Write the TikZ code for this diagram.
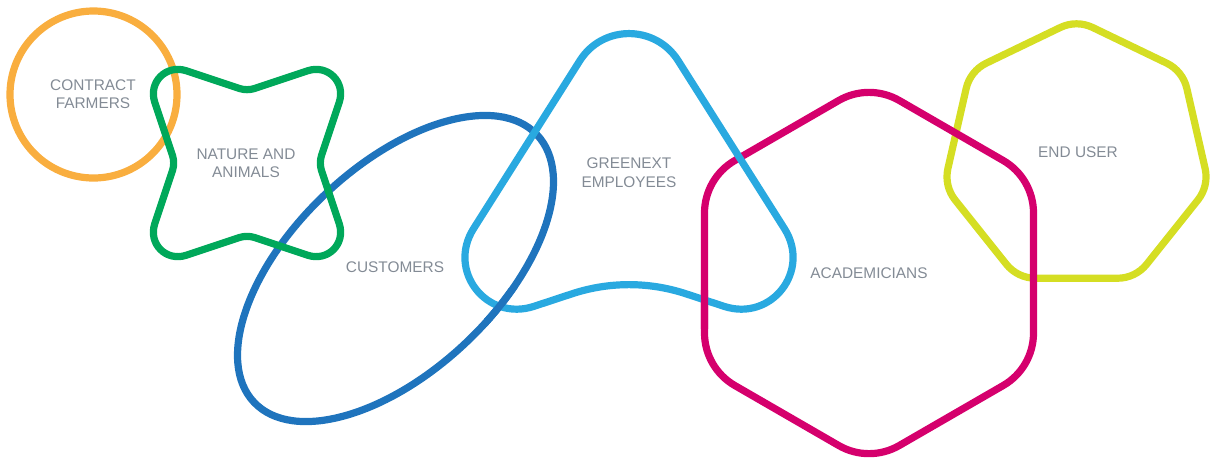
\documentclass[tikz,border=0pt]{standalone}
\usepackage{fontspec}
\setmainfont{Liberation Sans}
\usetikzlibrary{calc}
\definecolor{cOrange}{HTML}{F9AE3F}
\definecolor{cGreen}{HTML}{00A85A}
\definecolor{cDBlue}{HTML}{1F74BD}
\definecolor{cLBlue}{HTML}{29A9E0}
\definecolor{cMag}{HTML}{D5006D}
\definecolor{cLime}{HTML}{D5DE23}
\definecolor{cText}{HTML}{838B95}
\tikzset{
 rc/.style n args={5}{insert path={-- ($(#2)!#4!(#1)$) .. controls ($(#2)!#5!(#1)$) and ($(#2)!#5!(#3)$) .. ($(#2)!#4!(#3)$)}},
 ring/.style={line width=7.2pt, line join=round},
 lbl/.style={text=cText, font=\fontsize{15.4}{18.5}\selectfont, align=center, inner sep=0pt}
}
\begin{document}
\begin{tikzpicture}[x=1pt,y=1pt]
\useasboundingbox (0,0) rectangle (1212,-459);
% green shape
\coordinate (GTL) at (139,-55);
\coordinate (GT) at (247,-91);
\coordinate (GTR) at (355,-55);
\coordinate (GR) at (319,-163);
\coordinate (GBR) at (355,-271);
\coordinate (GB) at (247,-235);
\coordinate (GBL) at (139,-271);
\coordinate (GL) at (175,-163);
% light blue
\coordinate (V0) at (629,17);
\coordinate (V1) at (395.5,-352);
\coordinate (LM) at (629,-275);
\coordinate (V2) at (862.5,-352);
% hexagon
\coordinate (X0) at (869,-83);
\coordinate (X1) at (1033.5,-178);
\coordinate (X2) at (1033.5,-368);
\coordinate (X3) at (869,-463);
\coordinate (X4) at (704.5,-368);
\coordinate (X5) at (704.5,-178);
% heptagon
\coordinate (HC) at (1076.5,-155.7);
\foreach \i in {0,...,6} \coordinate (H\i) at ($(HC)+(90+\i*51.4286:136)$);

\draw[ring, cOrange] (93.5,-94.5) circle[radius=83.5];
\draw[ring, cDBlue, rotate around={43.4:(395.5,-268.5)}] (395.5,-268.5) ellipse [x radius=194.7, y radius=102.3];
\draw[ring, cGreen] ($(GT)!0.5!(GTR)$)
  [rc={GT}{GTR}{GR}{50pt}{28.6pt}] [rc={GTR}{GR}{GBR}{8pt}{3pt}]
  [rc={GR}{GBR}{GB}{50pt}{28.6pt}] [rc={GBR}{GB}{GBL}{8pt}{3pt}]
  [rc={GB}{GBL}{GL}{50pt}{28.6pt}] [rc={GBL}{GL}{GTL}{8pt}{3pt}]
  [rc={GL}{GTL}{GT}{50pt}{28.6pt}] [rc={GTL}{GT}{GTR}{8pt}{3pt}] -- cycle;
\draw[ring, cLime] ($(H0)!0.5!(H1)$)
  [rc={H0}{H1}{H2}{18pt}{6.6pt}] [rc={H1}{H2}{H3}{18pt}{6.6pt}]
  [rc={H2}{H3}{H4}{18pt}{6.6pt}] [rc={H3}{H4}{H5}{18pt}{6.6pt}]
  [rc={H4}{H5}{H6}{18pt}{6.6pt}] [rc={H5}{H6}{H0}{18pt}{6.6pt}]
  [rc={H6}{H0}{H1}{18pt}{6.6pt}] -- cycle;
\draw[ring, cMag] ($(X0)!0.5!(X1)$)
  [rc={X0}{X1}{X2}{35pt}{13.3pt}] [rc={X1}{X2}{X3}{35pt}{13.3pt}]
  [rc={X2}{X3}{X4}{35pt}{13.3pt}] [rc={X3}{X4}{X5}{35pt}{13.3pt}]
  [rc={X4}{X5}{X0}{35pt}{13.3pt}] [rc={X5}{X0}{X1}{35pt}{13.3pt}] -- cycle;
\draw[ring, cLBlue] ($(V0)!0.5!(V1)$)
  [rc={V0}{V1}{LM}{146pt}{95.9pt}] [rc={V1}{LM}{V2}{60pt}{21pt}]
  [rc={LM}{V2}{V0}{146pt}{95.9pt}] [rc={V2}{V0}{V1}{91.8pt}{49.2pt}] -- cycle;
% interlacing
\begin{scope}
\clip (484,-288) rectangle (522,-326);
\draw[ring, cDBlue, rotate around={43.4:(395.5,-268.5)}] (395.5,-268.5) ellipse [x radius=194.7, y radius=102.3];
\end{scope}
\begin{scope}
\clip (692,-290) rectangle (718,-328);
\draw[ring, cMag] ($(X0)!0.5!(X1)$)
  [rc={X0}{X1}{X2}{35pt}{13.3pt}] [rc={X1}{X2}{X3}{35pt}{13.3pt}]
  [rc={X2}{X3}{X4}{35pt}{13.3pt}] [rc={X3}{X4}{X5}{35pt}{13.3pt}]
  [rc={X4}{X5}{X0}{35pt}{13.3pt}] [rc={X5}{X0}{X1}{35pt}{13.3pt}] -- cycle;
\end{scope}
% labels
\node[lbl] (cf) at (93,-94) {CONTRACT\\FARMERS};
\node[lbl] (na) at (246,-163.5) {NATURE AND\\ANIMALS};
\node[lbl] (cu) at (395,-267) {CUSTOMERS};
\node[lbl] (ge) at (629,-172.5) {GREENEXT\\EMPLOYEES};
\node[lbl] (ac) at (869,-273) {ACADEMICIANS};
\node[lbl] (eu) at (1078,-152) {END USER};
\end{tikzpicture}
\end{document}
